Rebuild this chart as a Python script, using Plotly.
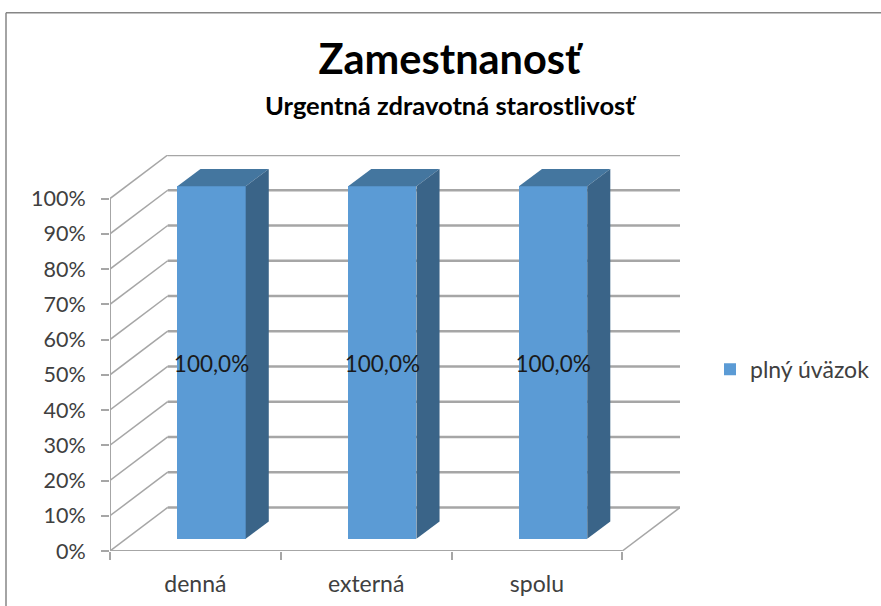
import plotly.graph_objects as go

categories = ["denná", "externá", "spolu"]
series_name = "plný úväzok"
values = [100.0, 100.0, 100.0]
labels = ["100,0%", "100,0%", "100,0%"]
y_ticks = [0, 10, 20, 30, 40, 50, 60, 70, 80, 90, 100]
title = "Zamestnanosť"
subtitle = "Urgentná zdravotná starostlivosť"

FONT = "Lato"
W, H = 881, 606
L, R, T, B = 110, 201, 154.5, 55
# oblique depth of the 3D box, expressed in axis units
DX, DY = 0.338, 12.36
BAR_W = 0.40
D0, D1 = 0.28, 0.68   # front/back depth of the bars
OFF = 0.5             # bar centre in its slot
GRID = "#A6A6A6"

xmax, ymax = 3 + DX, 100 + DY
pw, ph = W - L - R, H - T - B


def line(x0, y0, x1, y1, width=2, color=GRID):
    return dict(type="line", layer="below", xref="x", yref="y",
                x0=x0, y0=y0, x1=x1, y1=y1, line=dict(color=color, width=width))


shapes = []
for v in y_ticks:
    shapes.append(line(DX, v + DY, xmax, v + DY, 2.5))
    shapes.append(line(0, v, DX, v + DY, 1.5))
shapes.append(line(0, 0, 0, 100, 2))
shapes.append(line(0, 0, 3, 0, 2))
shapes.append(line(3, 0, xmax, DY, 1.5))
# chart frame (open at the right and bottom, as in the picture)
fx = lambda px: (px - L) / pw
fy = lambda py: 1 - (py - T) / ph
shapes.append(dict(type="line", xref="paper", yref="paper", x0=fx(6), y0=fy(12), x1=fx(881), y1=fy(12),
                   line=dict(color="#868686", width=1.5)))
shapes.append(dict(type="line", xref="paper", yref="paper", x0=fx(6), y0=fy(12), x1=fx(6), y1=fy(606),
                   line=dict(color="#868686", width=1.5)))

fig = go.Figure()
centres = [i + OFF + D0 * DX for i in range(len(categories))]
bases = [D0 * DY] * len(categories)

fig.add_trace(go.Bar(x=centres, y=values, base=bases, width=BAR_W, name=series_name,
                     marker=dict(color="#5B9BD5", line=dict(width=0)), showlegend=True))

dd = D1 - D0
for c, v, b in zip(centres, values, bases):
    xl, xr = c - BAR_W / 2, c + BAR_W / 2
    top = b + v
    fig.add_trace(go.Scatter(x=[xl, xr, xr + dd * DX, xl + dd * DX, xl],
                             y=[top, top, top + dd * DY, top + dd * DY, top],
                             fill="toself", fillcolor="#44769F", mode="none",
                             showlegend=False, hoverinfo="skip"))
    fig.add_trace(go.Scatter(x=[xr, xr + dd * DX, xr + dd * DX, xr, xr],
                             y=[b, b + dd * DY, top + dd * DY, top, b],
                             fill="toself", fillcolor="#3A6488", mode="none",
                             showlegend=False, hoverinfo="skip"))

fig.add_trace(go.Scatter(x=centres, y=[b + v / 2 - 1 for b, v in zip(bases, values)], text=labels,
                         mode="text", textposition="middle center", cliponaxis=False,
                         textfont=dict(family=FONT, size=22.5, color="#1a1a1a"),
                         showlegend=False, hoverinfo="skip"))

fig.update_layout(
    width=W, height=H, autosize=False,
    margin=dict(l=L, r=R, t=T, b=B, pad=0, autoexpand=False),
    paper_bgcolor="white", plot_bgcolor="white",
    font=dict(family=FONT, size=20, color="#404040"),
    title=dict(text=f"<b>{title}</b>", x=449.5 / W, xanchor="center", y=1 - 59 / H, yanchor="middle",
               font=dict(family=FONT, size=41.5, color="black")),
    annotations=[dict(text=f"<b>{subtitle}</b>", xref="paper", yref="paper", x=fx(450.5), y=fy(104),
                      xanchor="center", yanchor="middle", showarrow=False,
                      font=dict(family=FONT, size=25.5, color="black"))],
    shapes=shapes,
    bargap=0,
    showlegend=True,
    legend=dict(x=fx(710), y=fy(369), xanchor="left", yanchor="middle", bgcolor="rgba(0,0,0,0)",
                font=dict(family=FONT, size=23, color="#404040"), itemwidth=30),
    xaxis=dict(range=[0, xmax], tickmode="array", tickvals=[i + OFF for i in range(len(categories))],
               ticktext=categories, ticks="", ticklabelstandoff=17,
               tickfont=dict(family=FONT, size=23, color="#404040"),
               minor=dict(tickmode="array", tickvals=list(range(len(categories) + 1)), ticks="outside",
                          ticklen=8, tickcolor=GRID, tickwidth=1.5),
               showgrid=False, showline=False, zeroline=False),
    yaxis=dict(range=[0, ymax], tickmode="array", tickvals=y_ticks, ticktext=[f"{v}%" for v in y_ticks],
               ticks="outside", ticklen=8, tickcolor=GRID, tickwidth=1.5, showgrid=False,
               ticklabelstandoff=11,
               showline=False, zeroline=False, tickfont=dict(family=FONT, size=21.5, color="#404040")),
)
fig.write_html("out.html", config={"displayModeBar": False},
               post_script="document.body.style.margin='0';document.documentElement.style.overflow='hidden';")
